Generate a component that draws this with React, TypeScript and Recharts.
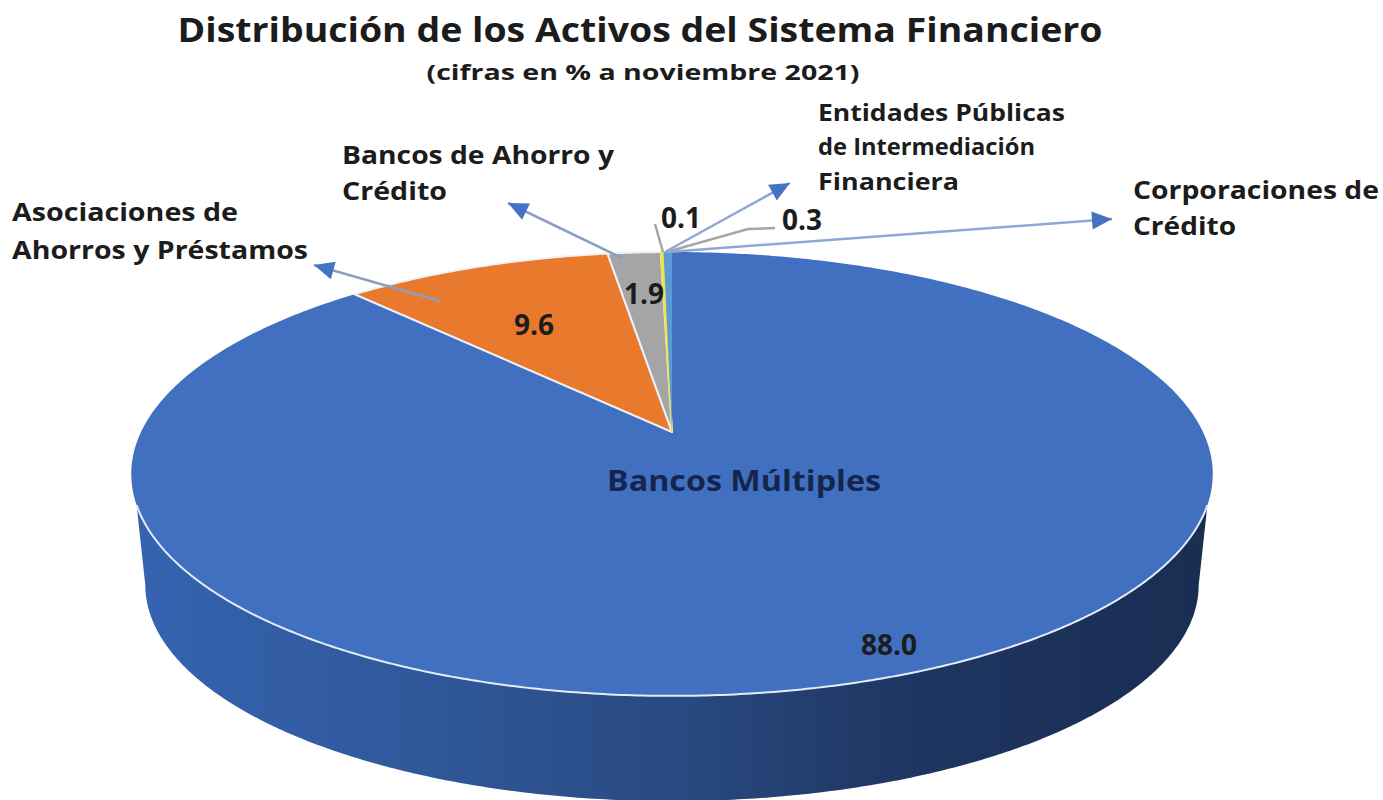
import React from "react";
import { PieChart, Pie, Cell } from "recharts";

const categories = [
  "Bancos Múltiples",
  "Asociaciones de Ahorros y Préstamos",
  "Bancos de Ahorro y Crédito",
  "Entidades Públicas de Intermediación Financiera",
  "Corporaciones de Crédito",
];
const values = [88.0, 9.6, 1.9, 0.1, 0.3];
const colors = ["#4170C0", "#E97A2D", "#A5A5A5", "#F2E24E", "#5B9BD5"];
const rows = categories.map((name, i) => ({ name, value: values[i] }));

const TITLE = "Distribución de los Activos del Sistema Financiero";
const SUBTITLE = "(cifras en % a noviembre 2021)";
const FONT = "'Open Sans', sans-serif";
const INK = "#1c1c1c";

// perspective of the tilted disc
const TILT = 0.189;
const SQUASH = 214 / 531;
const rim = (cx: number, cy: number, r: number, deg: number) => {
  const a = (deg * Math.PI) / 180;
  const u = Math.cos(a);
  const v = Math.sin(a);
  const w = 1 + TILT * v;
  return [cx + (r * u) / w, cy - (r * SQUASH * v) / w];
};
const ELLIPSE_MID = 42;
const DEPTH = 111;
const SHRINK = 0.974;
const floorPt = (cx: number, cy: number, r: number, deg: number) => {
  const [x, y] = rim(cx, cy, r, deg);
  return [cx + (x - cx) * SHRINK, cy + ELLIPSE_MID + DEPTH + (y - cy - ELLIPSE_MID) * SHRINK];
};
const sampled = (from: number, to: number, f: (d: number) => number[]) => {
  const n = Math.max(2, Math.ceil(Math.abs(to - from) * 2));
  const out: string[] = [];
  for (let i = 0; i <= n; i++) {
    const p = f(from + ((to - from) * i) / n);
    out.push(`${p[0].toFixed(2)} ${p[1].toFixed(2)}`);
  }
  return out;
};

const DiscSlice = (props: any) => {
  const { cx, cy, outerRadius: r, startAngle, endAngle, fill, index } = props;
  const top = sampled(startAngle, endAngle, (d) => rim(cx, cy, r, d));
  const path = `M${cx} ${cy}L${top.join("L")}Z`;
  const hasWall = index === 0;
  let wall = "";
  let front = "";
  if (hasWall) {
    const upper = sampled(-18.7, -161.3, (d) => rim(cx, cy, r, d));
    const lower = sampled(-169, -11, (d) => floorPt(cx, cy, r, d));
    wall = `M${upper.join("L")}L${lower.join("L")}Z`;
    front = `M${upper.join("L")}`;
  }
  const sliver = index === 3;
  const edge = sliver ? fill : index === 4 ? "none" : hasWall ? "none" : "#EEF2F8";
  return (
    <g>
      {hasWall && (
        <>
          <defs>
            <linearGradient id="wallShade" x1="0" y1="0" x2="1" y2="0">
              <stop offset="0" stopColor="#3563B0" />
              <stop offset="0.25" stopColor="#30599C" />
              <stop offset="0.5" stopColor="#294A81" />
              <stop offset="0.72" stopColor="#1E3662" />
              <stop offset="1" stopColor="#1A2D52" />
            </linearGradient>
          </defs>
          <path d={wall} fill="url(#wallShade)" />
        </>
      )}
      <path d={path} fill={fill} stroke={edge} strokeWidth={sliver ? 1.5 : 2} strokeLinejoin="round" />
      {hasWall && <path d={front} fill="none" stroke="#E4ECF8" strokeWidth={2} />}
    </g>
  );
};

const callouts = [
  { from: [440, 301], tip: [314, 265] },
  { from: [622, 258], tip: [508, 203] },
  { from: [665, 252], tip: [790, 183] },
  { from: [668, 252], tip: [1112, 219] },
];
const leaders = ["655,224 663,252", "775,228 748,229 670,251"];

const nameLabels = [
  { text: "Asociaciones de", x: 12, y: 221, w: 226, size: 25 },
  { text: "Ahorros y Préstamos", x: 12, y: 259, w: 296, size: 25 },
  { text: "Bancos de Ahorro y", x: 342, y: 164, w: 272, size: 25 },
  { text: "Crédito", x: 342, y: 200, w: 105, size: 25 },
  { text: "Entidades Públicas", x: 818, y: 121, w: 247, size: 23 },
  { text: "de Intermediación", x: 818, y: 155, w: 217, size: 23 },
  { text: "Financiera", x: 818, y: 190, w: 141, size: 23 },
  { text: "Corporaciones de", x: 1133, y: 199, w: 246, size: 25 },
  { text: "Crédito", x: 1133, y: 235, w: 103, size: 25 },
  { text: "Bancos Múltiples", x: 607, y: 491, w: 274, size: 29, color: "#14264D" },
];
const valueLabels = [
  { text: "88.0", x: 889, y: 655 },
  { text: "9.6", x: 534, y: 335 },
  { text: "1.9", x: 644, y: 304 },
  { text: "0.1", x: 681, y: 228 },
  { text: "0.3", x: 802, y: 230 },
];

const head = (from: number[], tip: number[]) => {
  const dx = tip[0] - from[0];
  const dy = tip[1] - from[1];
  const len = Math.hypot(dx, dy);
  const ux = dx / len;
  const uy = dy / len;
  const L = 20;
  const W = 9;
  const bx = tip[0] - ux * L;
  const by = tip[1] - uy * L;
  return `${tip[0]},${tip[1]} ${bx - uy * W},${by + ux * W} ${bx + uy * W},${by - ux * W}`;
};

export default function App() {
  return (
    <div style={{ position: "absolute", left: 0, top: 0, width: 1383, height: 800, overflow: "hidden", background: "#fff" }}>
      <PieChart width={1383} height={800} margin={{ top: 0, right: 0, bottom: 0, left: 0 }}>
        <Pie
          data={rows}
          dataKey="value"
          nameKey="name"
          cx={672}
          cy={432}
          innerRadius={0}
          outerRadius={531}
          startAngle={90}
          endAngle={-270}
          paddingAngle={0}
          isAnimationActive={false}
          label={false}
          labelLine={false}
          shape={DiscSlice}
        >
          {rows.map((row, i) => (
            <Cell key={row.name} fill={colors[i]} />
          ))}
        </Pie>
      </PieChart>
      <svg width={1383} height={800} style={{ position: "absolute", left: 0, top: 0, pointerEvents: "none" }}>
        <g fontFamily={FONT} fontWeight={700}>
          <text x={640} y={42} textAnchor="middle" fontSize={34} fill={INK} textLength={925} lengthAdjust="spacingAndGlyphs">{TITLE}</text>
          <text x={643} y={80} textAnchor="middle" fontSize={22} fill={INK} textLength={433} lengthAdjust="spacingAndGlyphs">{SUBTITLE}</text>
          {leaders.map((p) => (
            <polyline key={p} points={p} fill="none" stroke="#A6A6A6" strokeWidth={2.5} />
          ))}
          {callouts.map((c, i) => (
            <g key={c.tip.join()}>
              <line x1={c.from[0]} y1={c.from[1]} x2={c.tip[0]} y2={c.tip[1]} stroke={i < 2 ? "#8C9DC4" : "#8FA6D6"} strokeWidth={2.5} />
              <polygon points={head(c.from, c.tip)} fill="#4472C4" />
            </g>
          ))}
          {nameLabels.map((l) => (
            <text key={l.text + l.x} x={l.x} y={l.y} fontSize={l.size} fill={l.color ?? INK} textLength={l.w} lengthAdjust="spacingAndGlyphs">{l.text}</text>
          ))}
          {valueLabels.map((l) => (
            <text key={l.text} x={l.x} y={l.y} fontSize={28} textAnchor="middle" fill={INK}>{l.text}</text>
          ))}
        </g>
      </svg>
    </div>
  );
}
